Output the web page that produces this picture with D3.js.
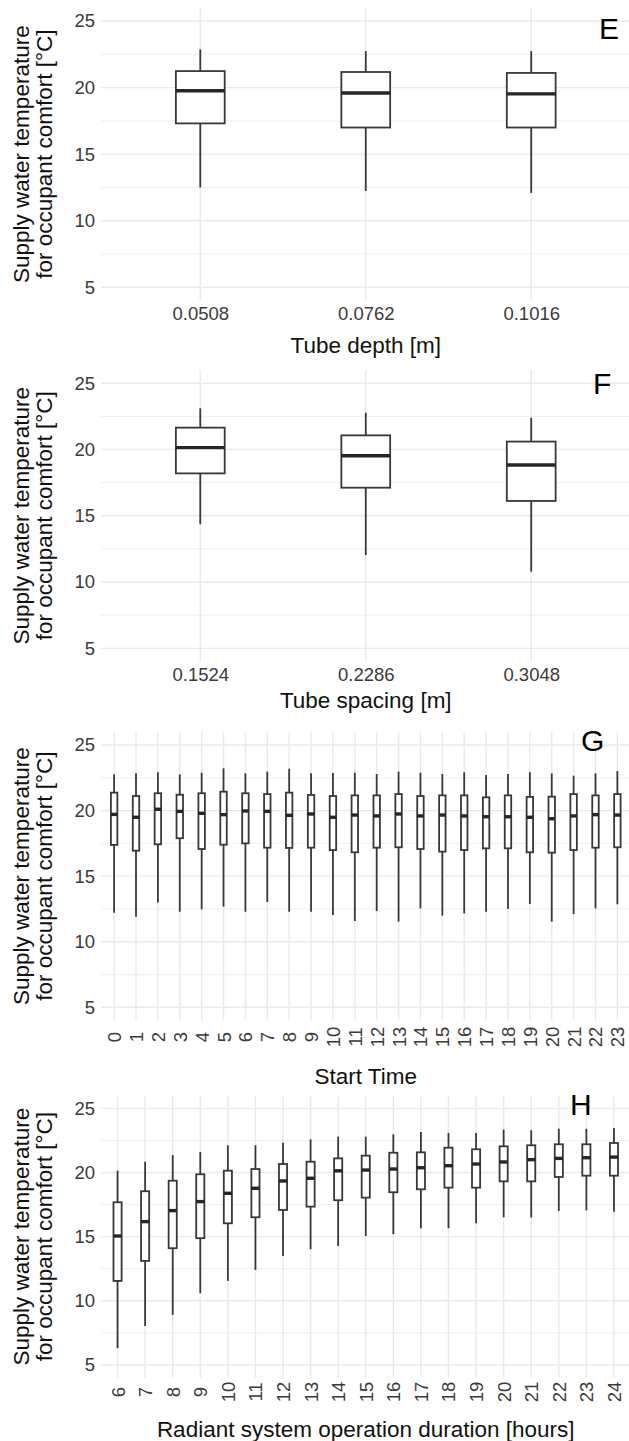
<!DOCTYPE html>
<html>
<head>
<meta charset="utf-8">
<script src="https://cdn.jsdelivr.net/npm/d3@7"></script>
<style>
  html, body { margin: 0; padding: 0; background: #fff; }
  svg { display: block; font-family: "Liberation Sans", Arial, Helvetica, sans-serif; }
</style>
</head>
<body>
<svg id="chart" width="629" height="1441"></svg>
<script>
// ---- Tube depth ----
const depthLabels = ["0.0508", "0.0762", "0.1016"];
const depthLow  = [12.50, 12.24, 12.09];
const depthQ1   = [17.31, 17.00, 17.00];
const depthMed  = [19.76, 19.59, 19.53];
const depthQ3   = [21.24, 21.17, 21.10];
const depthHigh = [22.87, 22.74, 22.74];

// ---- Tube spacing ----
const spacingLabels = ["0.1524", "0.2286", "0.3048"];
const spacingLow  = [14.36, 12.04, 10.78];
const spacingQ1   = [18.20, 17.12, 16.12];
const spacingMed  = [20.14, 19.53, 18.83];
const spacingQ3   = [21.65, 21.07, 20.60];
const spacingHigh = [23.11, 22.78, 22.40];

// ---- Start time ----
const startLabels = ["0","1","2","3","4","5","6","7","8","9","10","11",
                     "12","13","14","15","16","17","18","19","20","21","22","23"];
const startLow  = [12.21, 11.91, 12.98, 12.29, 12.47, 12.67, 12.29, 13.03, 12.29, 12.29, 12.04, 11.58,
                   12.34, 11.53, 12.54, 11.99, 12.16, 12.29, 12.49, 12.88, 11.53, 12.11, 12.54, 12.85];
const startQ1   = [17.38, 16.94, 17.43, 17.89, 17.07, 17.40, 17.50, 17.17, 17.15, 17.17, 16.99, 16.82,
                   17.17, 17.20, 17.07, 16.87, 16.99, 17.12, 17.12, 16.82, 16.79, 16.99, 17.17, 17.20];
const startMed  = [19.71, 19.49, 20.10, 19.94, 19.79, 19.69, 19.97, 19.94, 19.64, 19.74, 19.49, 19.66,
                   19.59, 19.74, 19.59, 19.66, 19.59, 19.53, 19.53, 19.49, 19.38, 19.59, 19.69, 19.66];
const startQ3   = [21.37, 21.11, 21.32, 21.21, 21.32, 21.44, 21.32, 21.26, 21.37, 21.19, 21.11, 21.16,
                   21.16, 21.26, 21.11, 21.16, 21.16, 21.01, 21.16, 21.04, 21.06, 21.26, 21.16, 21.26];
const startHigh = [22.76, 22.84, 22.92, 22.76, 22.89, 23.22, 22.84, 22.97, 23.19, 22.84, 22.86, 22.89,
                   22.79, 22.97, 22.89, 22.79, 22.92, 22.71, 22.79, 22.92, 22.84, 22.66, 22.84, 23.02];

// ---- Operation duration ----
const durationLabels = ["6","7","8","9","10","11","12","13","14","15","16","17","18","19","20","21","22","23","24"];
const durationLow  = [6.31, 8.04, 8.90, 10.59, 11.55, 12.41, 13.50, 14.02, 14.28, 15.05,
                      15.19, 15.65, 15.65, 16.04, 16.51, 16.49, 17.00, 17.05, 16.95];
const durationQ1   = [11.55, 13.11, 14.10, 14.88, 16.04, 16.51, 17.08, 17.34, 17.84, 18.04,
                      18.46, 18.69, 18.82, 18.82, 19.31, 19.31, 19.65, 19.75, 19.75];
const durationMed  = [15.05, 16.17, 17.03, 17.73, 18.38, 18.77, 19.34, 19.55, 20.13, 20.19,
                      20.27, 20.37, 20.53, 20.66, 20.82, 21.00, 21.10, 21.15, 21.20];
const durationQ3   = [17.68, 18.54, 19.36, 19.86, 20.14, 20.27, 20.66, 20.84, 21.10, 21.31,
                      21.54, 21.57, 21.93, 21.81, 22.04, 22.12, 22.20, 22.20, 22.30];
const durationHigh = [20.14, 20.84, 21.36, 21.60, 22.12, 22.12, 22.32, 22.58, 22.79, 22.79,
                      22.97, 23.16, 23.08, 23.08, 23.34, 23.29, 23.41, 23.41, 23.47];

const yTicks = [5, 10, 15, 20, 25];
const yMinorTicks = [7.5, 12.5, 17.5, 22.5];
const yTitleLines = ["Supply water temperature", "for occupant comfort [°C]"];

function rows(labels, low, q1, med, q3, high) {
  return labels.map((c, i) => ({ c, low: low[i], q1: q1[i], med: med[i], q3: q3[i], high: high[i] }));
}

const panels = [
  { tag: "E", title: "Tube depth [m]", data: rows(depthLabels, depthLow, depthQ1, depthMed, depthQ3, depthHigh),
    top: 7.7, bottom: 300.6, rotate: false, tickPad: 6.5, titleY: 353, tagX: 599, tagY: 38.5 },
  { tag: "F", title: "Tube spacing [m]", data: rows(spacingLabels, spacingLow, spacingQ1, spacingMed, spacingQ3, spacingHigh),
    top: 370.0, bottom: 661.6, rotate: false, tickPad: 6.5, titleY: 708, tagX: 593, tagY: 393.5 },
  { tag: "G", title: "Start Time", data: rows(startLabels, startLow, startQ1, startMed, startQ3, startHigh),
    top: 731.9, bottom: 1020.4, rotate: true, tickPad: 16.6, titleY: 1083.5, tagX: 581, tagY: 750.5 },
  { tag: "H", title: "Radiant system operation duration [hours]", data: rows(durationLabels, durationLow, durationQ1, durationMed, durationQ3, durationHigh),
    top: 1095.5, bottom: 1377.8, rotate: true, tickPad: 14.2, titleY: 1437, tagX: 570, tagY: 1115 }
];

const svg = d3.select("#chart");
const left = 101, right = 630.5;
const ink = "#383838";

panels.forEach(p => {
  const g = svg.append("g");
  const x = d3.scalePoint().domain(p.data.map(d => d.c)).range([left, right]).padding(0.6);
  const y = d3.scaleLinear().domain([4, 26]).range([p.bottom, p.top]);
  const bw = x.step() * 0.295;

  // grid
  g.append("g").selectAll("line").data(yMinorTicks).join("line")
    .attr("x1", left).attr("x2", right)
    .attr("y1", d => y(d)).attr("y2", d => y(d))
    .attr("stroke", "#efefef").attr("stroke-width", 1);
  g.append("g").selectAll("line").data(yTicks).join("line")
    .attr("x1", left).attr("x2", right)
    .attr("y1", d => y(d)).attr("y2", d => y(d))
    .attr("stroke", "#e9e9e9").attr("stroke-width", 1.4);
  g.append("g").selectAll("line").data(x.domain()).join("line")
    .attr("x1", d => x(d)).attr("x2", d => x(d))
    .attr("y1", p.top).attr("y2", p.bottom)
    .attr("stroke", "#e9e9e9").attr("stroke-width", 1.4);

  // y axis
  const ya = g.append("g").attr("transform", `translate(${left},0)`)
    .call(d3.axisLeft(y).tickValues(yTicks).tickSize(0).tickPadding(6));
  ya.select(".domain").remove();
  ya.selectAll("text").attr("font-size", 18.5).attr("fill", "#3a3a3a")
    .attr("font-family", "Liberation Sans, Arial, sans-serif");

  // x axis
  const xa = g.append("g").attr("transform", `translate(0,${p.bottom})`)
    .call(d3.axisBottom(x).tickSize(0).tickPadding(p.tickPad));
  xa.select(".domain").remove();
  xa.selectAll("text").attr("font-size", 18.5).attr("fill", "#3a3a3a")
    .attr("font-family", "Liberation Sans, Arial, sans-serif");
  if (p.rotate) {
    xa.selectAll("text")
      .attr("y", 0).attr("dy", "0.35em")
      .attr("text-anchor", "middle")
      .attr("transform", `translate(0,${p.tickPad}) rotate(-90)`);
  }

  // boxes
  const box = g.append("g").selectAll("g").data(p.data).join("g");
  box.append("line")
    .attr("x1", d => x(d.c)).attr("x2", d => x(d.c))
    .attr("y1", d => y(d.high)).attr("y2", d => y(d.q3))
    .attr("stroke", ink).attr("stroke-width", 1.8);
  box.append("line")
    .attr("x1", d => x(d.c)).attr("x2", d => x(d.c))
    .attr("y1", d => y(d.q1)).attr("y2", d => y(d.low))
    .attr("stroke", ink).attr("stroke-width", 1.8);
  box.append("rect")
    .attr("x", d => x(d.c) - bw / 2).attr("width", bw)
    .attr("y", d => y(d.q3)).attr("height", d => y(d.q1) - y(d.q3))
    .attr("fill", "#fff").attr("stroke", ink).attr("stroke-width", 1.8);
  box.append("line")
    .attr("x1", d => x(d.c) - bw / 2).attr("x2", d => x(d.c) + bw / 2)
    .attr("y1", d => y(d.med)).attr("y2", d => y(d.med))
    .attr("stroke", "#262626").attr("stroke-width", 3.4);

  // axis titles
  g.append("text")
    .attr("x", (left + right) / 2).attr("y", p.titleY)
    .attr("text-anchor", "middle").attr("font-size", 22.5).attr("fill", "#111")
    .text(p.title);
  const cy = (p.top + p.bottom) / 2;
  yTitleLines.forEach((t, i) => {
    g.append("text")
      .attr("transform", `translate(${29 + i * 23},${cy}) rotate(-90)`)
      .attr("text-anchor", "middle").attr("font-size", 22.5).attr("fill", "#111")
      .text(t);
  });

  // panel tag
  g.append("text")
    .attr("x", p.tagX).attr("y", p.tagY)
    .attr("font-size", 30).attr("fill", "#000")
    .text(p.tag);
});
</script>
</body>
</html>
